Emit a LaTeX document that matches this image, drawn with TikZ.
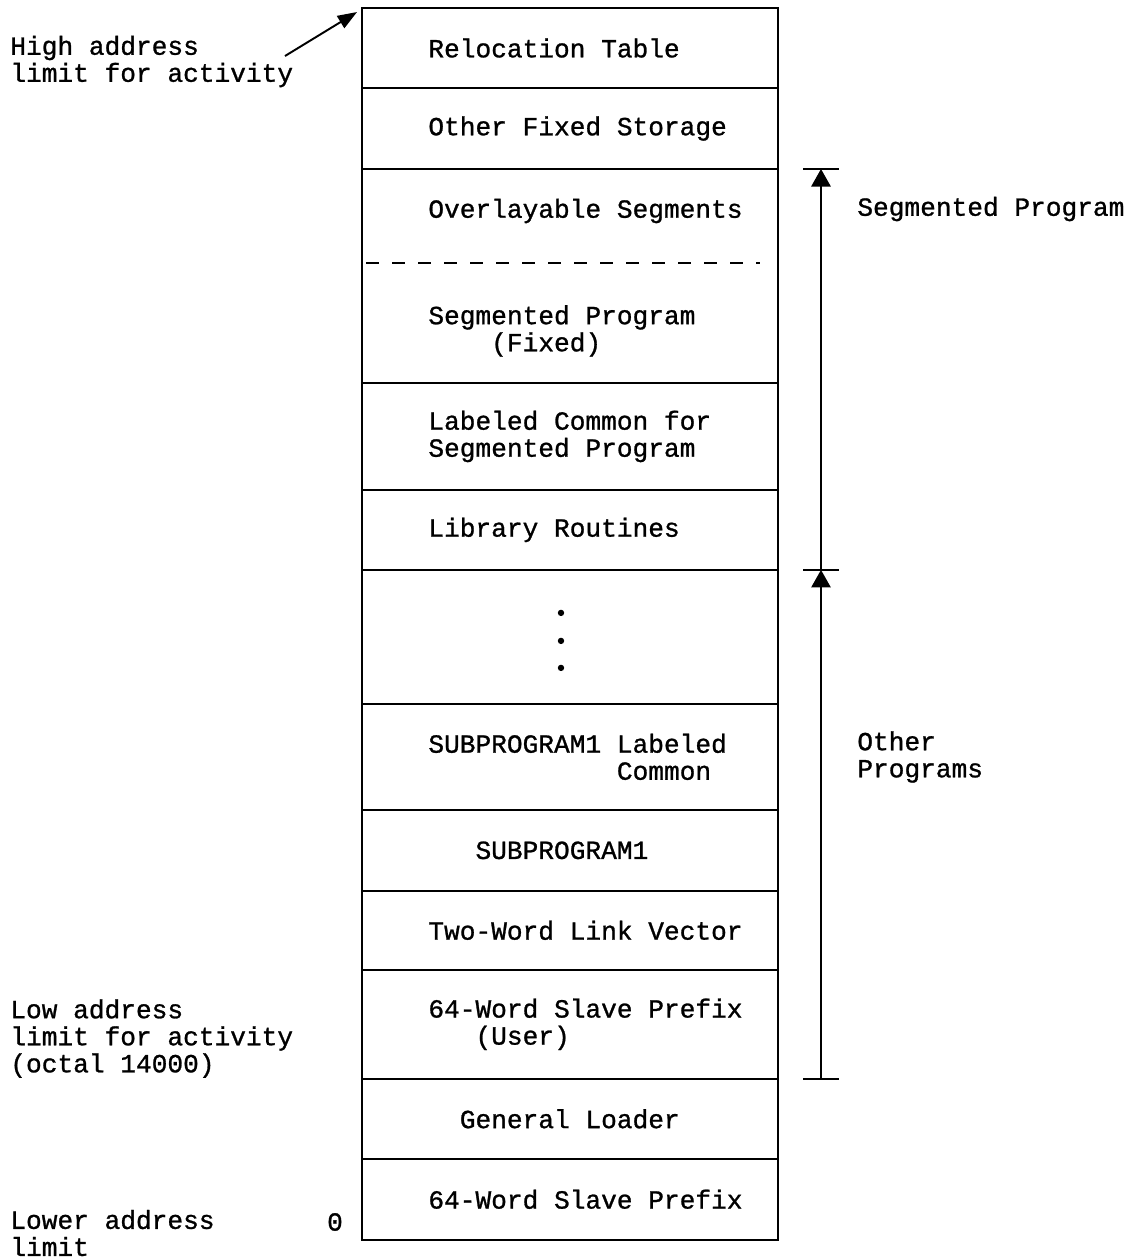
\documentclass[tikz,border=0pt]{standalone}
\usepackage{fontspec}
\setmonofont[FakeBold=1]{Liberation Mono}
\usetikzlibrary{positioning,calc,arrows.meta}
\newcommand{\typed}{\ttfamily\fontsize{14.9}{15.4}\selectfont}
% skips #1 typewriter columns
\newcommand{\pad}[1]{\hspace*{#1\fontcharwd\font`M}}
\tikzset{
  cell/.style      = {draw,line width=1.1pt,outer sep=0pt,minimum width=8.32cm},
  celltext/.style  = {inner sep=0pt,align=left,font=\typed},
  sidelabel/.style = {inner sep=0pt,align=left,anchor=west,font=\typed},
  span/.style      = {line width=1.1pt},
  >={Triangle[width=11pt,length=10pt]}
}
\newcommand{\MemRow}[5][]{%
  % draws the storage block
  \node[cell,minimum height=#3,#4] (#2) {};
  % types its text at the tab stop
  \node[celltext,right=1.32cm of #2.west,#1] (#2text) {#5};
}

\begin{document}
\begin{tikzpicture}[x=0.02cm,y=-0.02cm]
  \useasboundingbox (0,0) rectangle (1142,1259);

  % storage blocks, top of the activity first
  \MemRow{reloc}{1.6cm}{at={(570,48)}}{Relocation Table}
  \MemRow{fixed}{1.62cm}{below=0pt of reloc}{Other Fixed Storage}
  \MemRow[yshift=0.1cm]{ovl}{1.88cm}{draw=none,below=0pt of fixed}{Overlayable Segments}
  \MemRow[yshift=-0.16cm]{segfix}{2.4cm}{draw=none,below=0pt of ovl}{Segmented Program\\\pad{4}(Fixed)}
  \MemRow{labcom}{2.14cm}{below=0pt of segfix}{Labeled Common for\\Segmented Program}
  \MemRow{lib}{1.6cm}{below=0pt of labcom}{Library Routines}
  \MemRow{more}{2.68cm}{below=0pt of lib}{}
  \MemRow{subcom}{2.12cm}{below=0pt of more}{SUBPROGRAM1 Labeled\\\pad{12}Common}
  \MemRow{sub}{1.62cm}{below=0pt of subcom}{\pad{3}SUBPROGRAM1}
  \MemRow{link}{1.58cm}{below=0pt of sub}{Two-Word Link Vector}
  \MemRow{userpfx}{2.18cm}{below=0pt of link}{64-Word Slave Prefix\\\pad{3}(User)}
  \MemRow{loader}{1.6cm}{below=0pt of userpfx}{\pad{2}General Loader}
  \MemRow{syspfx}{1.62cm}{below=0pt of loader}{64-Word Slave Prefix}

  % overlay area shares one box, split by a dashed line
  \draw[span] (ovl.north west) rectangle (segfix.south east);
  \draw[line width=1pt,dash pattern=on 7.4pt off 7.4pt]
    ($(ovl.south west)+(4,0)$) -- ($(ovl.south east)+(-18,0)$);

  % vertical dots
  \foreach \dy in {-24,4,31}
    \fill ($(more.center)+(-9,\dy)$) circle[radius=3.2];

  % address limits on the left
  \node[sidelabel] (hightxt) at (10,61.5) {High address\\limit for activity};
  \coordinate (hightail) at (285,56);
  \draw[span,-{Triangle[width=8pt,length=11pt]}] (hightail) -- ($(reloc.north west)+(-5,4)$);
  \node[sidelabel] (lowtxt) at (10,1038.5) {Low address\\limit for activity\\(octal 14000)};
  \node[sidelabel] (lowesttxt) at (10,1233) {Lower address\\limit};
  \node[celltext] (zero) at (335,1222) {0};

  % program spans on the right
  \coordinate (barx) at (821,0);
  \coordinate (segtop) at (ovl.north east -| barx);
  \coordinate (segbot) at (lib.south east -| barx);
  \coordinate (othbot) at (userpfx.south east -| barx);
  \draw[span,->] (segbot) -- (segtop);
  \draw[span,->] (othbot) -- (segbot);
  \foreach \c in {segtop,segbot,othbot}
    \draw[span] ($(\c)+(-18,0)$) -- ($(\c)+(18,0)$);
  \node[sidelabel] (segtxt) at (857,209) {Segmented Program};
  \node[sidelabel] (othtxt) at (857,757) {Other\\Programs};
\end{tikzpicture}
\end{document}
